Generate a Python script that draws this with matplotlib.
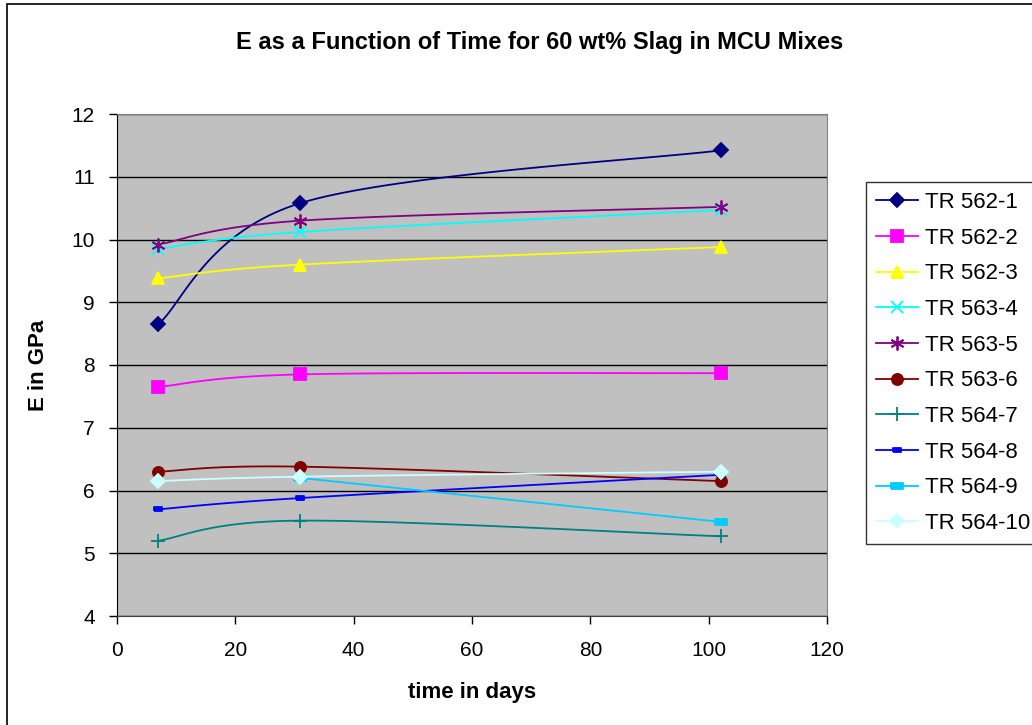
import numpy as np
import matplotlib
matplotlib.use("Agg")
import matplotlib.pyplot as plt
from matplotlib.patches import Rectangle

plt.rcParams['font.family'] = ['Liberation Sans', 'DejaVu Sans']

# data
days = [7, 31, 102]
series_names = ['TR 562-1', 'TR 562-2', 'TR 562-3', 'TR 563-4', 'TR 563-5',
                'TR 563-6', 'TR 564-7', 'TR 564-8', 'TR 564-9', 'TR 564-10']
tr562_1 = [8.65, 10.58, 11.42]
tr562_2 = [7.65, 7.85, 7.87]
tr562_3 = [9.38, 9.60, 9.88]
tr563_4 = [9.85, 10.12, 10.47]
tr563_5 = [9.92, 10.30, 10.52]
tr563_6 = [6.30, 6.38, 6.15]
tr564_7 = [5.20, 5.52, 5.27]
tr564_8 = [5.70, 5.88, 6.25]
tr564_9_days = [31, 102]
tr564_9 = [6.20, 5.50]
tr564_10 = [6.15, 6.22, 6.30]

dash_marker = [(-1, -0.45), (1, -0.45), (1, 0.45), (-1, 0.45), (-1, -0.45)]

styles = [
    ('#000080', 'D', 7),
    ('#FF00FF', 's', 8),
    ('#FFFF00', '^', 9),
    ('#00FFFF', 'x', 8),
    ('#800080', (6, 2, 0), 10),
    ('#800000', 'o', 8),
    ('#008080', '+', 10),
    ('#0000FF', dash_marker, 6),
    ('#00CCFF', dash_marker, 9),
    ('#CCFFFF', 'D', 7),
]


def smooth(xs, ys, n=40):
    # Excel style smoothed line: cubic bezier with catmull-rom control points
    p = np.column_stack([xs, ys]).astype(float)
    if len(p) < 3:
        return p[:, 0], p[:, 1]
    ext = np.vstack([p[0], p, p[-1]])
    out = []
    t = np.linspace(0, 1, n)[:, None]
    for i in range(1, len(ext) - 2):
        p0, p1, p2, p3 = ext[i - 1], ext[i], ext[i + 1], ext[i + 2]
        c1 = p1 + (p2 - p0) / 6
        c2 = p2 - (p3 - p1) / 6
        seg = ((1 - t) ** 3) * p1 + 3 * ((1 - t) ** 2) * t * c1 \
            + 3 * (1 - t) * t ** 2 * c2 + t ** 3 * p2
        out.append(seg if i == 1 else seg[1:])
    out = np.vstack(out)
    return out[:, 0], out[:, 1]


all_x = [days] * 8 + [tr564_9_days, days]
all_y = [tr562_1, tr562_2, tr562_3, tr563_4, tr563_5, tr563_6,
         tr564_7, tr564_8, tr564_9, tr564_10]

fig = plt.figure(figsize=(10.32, 7.25), dpi=100)
ax = fig.add_axes([117 / 1032, 109 / 725, 710 / 1032, 502 / 725])
ax.set_facecolor('#C0C0C0')

handles = []
for name, xs, ys, (col, mk, ms) in zip(series_names, all_x, all_y, styles):
    sx, sy = smooth(xs, ys)
    ax.plot(sx, sy, color=col, lw=1.3, zorder=3)
    ax.plot(xs, ys, ls='none', marker=mk, color=col, ms=ms, mew=1.3, zorder=4)
    h, = ax.plot([], [], color=col, lw=1.3, marker=mk, ms=ms, mew=1.3)
    handles.append(h)

ax.set_xlim(0, 120)
ax.set_ylim(4, 12)
ax.set_xticks(range(0, 121, 20))
ax.set_yticks(range(4, 13))
ax.yaxis.grid(True, color='black', lw=1)
ax.set_axisbelow(True)
ax.tick_params(direction='out', length=6, width=1, labelsize=15, colors='black')
ax.tick_params(axis='x', pad=12)
ax.tick_params(axis='y', pad=10)
for side in ['top', 'right']:
    ax.spines[side].set_color('#808080')
ax.spines['left'].set_color('black')
ax.spines['bottom'].set_color('#404040')

ax.set_xlabel('time in days', fontsize=16, fontweight='bold', labelpad=16)
ax.set_ylabel('E in GPa', fontsize=16, fontweight='bold', labelpad=16)
fig.text(540 / 1032, 1 - 43 / 725,
         'E as a Function of Time for 60 wt% Slag in MCU Mixes',
         ha='center', va='center', fontsize=17, fontweight='bold')

leg = fig.legend(handles, series_names, loc='upper left',
                 bbox_to_anchor=(866 / 1032, 1 - 182 / 725),
                 fontsize=16, frameon=True, fancybox=False, borderpad=0.45,
                 labelspacing=0.66, handlelength=1.9, handletextpad=0.3,
                 borderaxespad=0)
leg.get_frame().set_edgecolor('black')
leg.get_frame().set_linewidth(1)

fig.patches.append(Rectangle((7 / 1032, -0.01), 1.05, 1 - 4 / 725 + 0.01,
                             transform=fig.transFigure, fill=False,
                             edgecolor='black', lw=1.2))

fig.savefig('out.png', dpi=100, facecolor='white')
